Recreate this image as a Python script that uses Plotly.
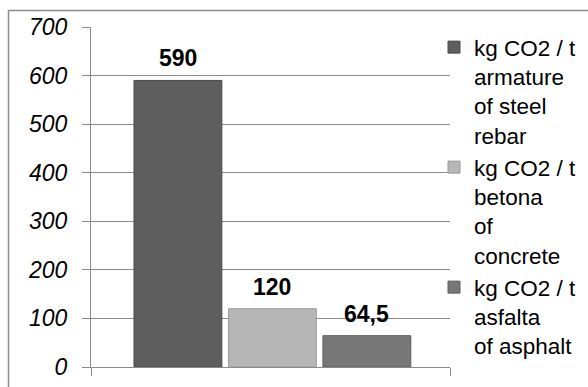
import plotly.graph_objects as go

# CO2 emission factors per tonne of material
series_names = [
    "kg CO2 / t<br>armature<br>of steel<br>rebar",
    "kg CO2 / t<br>betona<br>of<br>concrete",
    "kg CO2 / t<br>asfalta<br>of asphalt",
]
values = [590, 120, 64.5]
positions = [0, 1, 2]
bar_colors = ["#5e5e5e", "#b6b6b6", "#777777"]
edge_colors = ["#4a4a4a", "#9a9a9a", "#5e5e5e"]
y_ticks = [0, 100, 200, 300, 400, 500, 600, 700]

FONT = "Liberation Sans, Arial, sans-serif"
GRID = "#8c8c8c"

W, H = 588, 387
L, R, T, B = 91, 138, 27, 20
x_range = [-0.92, 2.88]


def label(v):
    return f"{v:g}".replace(".", ",")


fig = go.Figure()
for name, v, xpos, c, ec in zip(series_names, values, positions, bar_colors, edge_colors):
    fig.add_trace(go.Bar(
        x=[xpos], y=[v], name=name, width=0.93,
        marker=dict(color=c, line=dict(color=ec, width=1)),
    ))
    fig.add_annotation(
        x=xpos, y=v, text=f"<b>{label(v)}</b>", showarrow=False,
        yanchor="bottom", yshift=7,
        font=dict(family=FONT, size=23, color="#000000"),
    )

pw = W - L - R
ph = H - T - B
# outer chart frame (top and left edges)
fig.add_shape(type="rect", xref="paper", yref="paper",
              x0=(8.5 - L) / pw, x1=(W + 5 - L) / pw,
              y0=(H - B - (H + 5)) / ph, y1=(H - B - 10.5) / ph,
              line=dict(color="#8c8c8c", width=1.5), fillcolor="rgba(0,0,0,0)",
              layer="below")

fig.update_layout(
    width=W, height=H,
    margin=dict(l=L, r=R, t=T, b=B, autoexpand=False),
    paper_bgcolor="white", plot_bgcolor="white",
    barmode="overlay",
    showlegend=True,
    legend=dict(
        x=(434 - L) / pw, xanchor="left",
        y=(H - B - 26) / ph, yanchor="top",
        valign="top", maxheight=500,
        font=dict(family=FONT, size=22.5, color="#000000"),
        bgcolor="rgba(0,0,0,0)", borderwidth=0,
        tracegroupgap=0,
    ),
    xaxis=dict(
        range=x_range, showgrid=False, zeroline=False,
        showline=True, linecolor=GRID, linewidth=1,
        tickmode="array", tickvals=x_range, ticks="outside",
        ticklen=8, tickcolor=GRID, tickwidth=1, showticklabels=False,
    ),
    yaxis=dict(
        range=[0, 700], tickmode="array", tickvals=y_ticks,
        ticktext=[f"<i>{t}</i>" for t in y_ticks],
        showgrid=True, gridcolor=GRID, gridwidth=1,
        zeroline=False, showline=True, linecolor=GRID, linewidth=1,
        ticks="outside", ticklen=8, tickcolor=GRID, tickwidth=1,
        ticklabelstandoff=10,
        tickfont=dict(family=FONT, size=23, color="#000000"),
    ),
)

fig.write_html("out.html")
